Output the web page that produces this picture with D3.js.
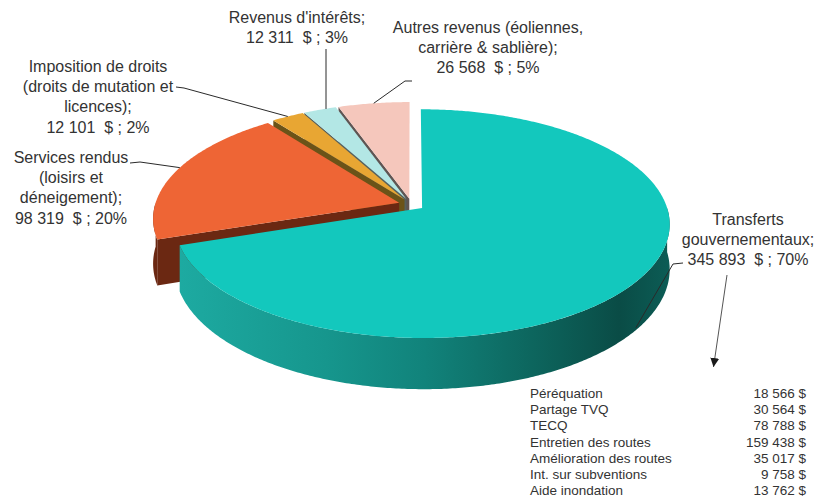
<!DOCTYPE html>
<html>
<head>
<meta charset="utf-8">
<script src="https://cdn.jsdelivr.net/npm/d3@7"></script>
<style>
  body { margin: 0; background: #fff; }
  text { font-family: "Liberation Sans", Arial, sans-serif; fill: #333; }
</style>
</head>
<body>
<div id="chart"></div>
<script>
// revenue categories, clockwise from 12 o'clock
const categories = [
  "Transferts gouvernementaux",
  "Services rendus (loisirs et déneigement)",
  "Imposition de droits (droits de mutation et licences)",
  "Revenus d'intérêts",
  "Autres revenus (éoliennes, carrière & sablière)"
];
const values = [345893, 98319, 12101, 12311, 26568];
const percentLabels = ["70%", "20%", "2%", "3%", "5%"];
const labelLines = [
  ["Transferts", "gouvernementaux;"],
  ["Services rendus", "(loisirs et", "déneigement);"],
  ["Imposition de droits", "(droits de mutation et", "licences);"],
  ["Revenus d'intérêts;"],
  ["Autres revenus (éoliennes,", "carrière & sablière);"]
];

// breakdown of the government transfers
const detailNames = [
  "Péréquation", "Partage TVQ", "TECQ", "Entretien des routes",
  "Amélioration des routes", "Int. sur subventions", "Aide inondation"
];
const detailValues = [18566, 30564, 78788, 159438, 35017, 9758, 13762];

const topColors = ["#13C8BD", "#EE6535", "#E8A633", "#B3E7E5", "#F5C7BC"];
const sideColors = ["#0E7E76", "#6B2812", "#6B5318", "#55615F", "#5F5553"];

const fr = d3.formatLocale({ decimal: ",", thousands: "\u00a0", grouping: [3], currency: ["", " $"] });
const fmt = fr.format(",d");

const width = 816, height = 502;
const svg = d3.select('#chart').append('svg')
  .attr('width', width).attr('height', height);

// 3D projection of the pie plane
const cx = 411.5, cy = 204.5, R = 244, K = 0.456, D = 1790, depth = 44, explode = 13;
function proj(r, a, off, z) {
  const u = r * Math.sin(a) + off[0];
  const f = r * Math.cos(a) + off[1];
  const s = D / (D + f);
  return [cx + u * s, cy - f * K * s + z * s];
}
function arcPts(a0, a1, off, z) {
  const n = Math.max(2, Math.ceil(Math.abs(a1 - a0) / 0.01));
  return d3.range(n + 1).map(i => proj(R, a0 + (a1 - a0) * i / n, off, z));
}
const line = d3.line().curve(d3.curveLinear);

const arcs = d3.pie().sort(null).value(d => d)(values).map((d, i) => {
  const mid = (d.startAngle + d.endAngle) / 2;
  return { ...d, i, mid, off: [explode * Math.sin(mid), explode * Math.cos(mid)] };
});

const defs = svg.append('defs');
const grad = defs.append('linearGradient').attr('id', 'tealSide')
  .attr('gradientUnits', 'userSpaceOnUse')
  .attr('x1', 180).attr('x2', 668).attr('y1', 0).attr('y2', 0);
[[0, "#1DAAA1"], [0.3, "#16968D"], [0.5, "#11837B"], [0.72, "#0D665E"], [0.9, "#0A4C46"], [1, "#0C5C55"]]
  .forEach(([o, c]) => grad.append('stop').attr('offset', o).attr('stop-color', c));

const walls = svg.append('g');
const tops = svg.append('g');

// walls: far slices first
arcs.slice().sort((a, b) => b.off[1] - a.off[1]).forEach(d => {
  const g = walls.append('g');
  const fillSide = d.i === 0 ? 'url(#tealSide)' : sideColors[d.i];
  // radial faces facing the viewer
  [[d.startAngle, Math.sin(d.startAngle) < -1e-6], [d.endAngle, Math.sin(d.endAngle) > 1e-6]]
    .forEach(([a, vis]) => {
      if (!vis) return;
      const pts = [proj(0, 0, d.off, 0), proj(R, a, d.off, 0), proj(R, a, d.off, depth), proj(0, 0, d.off, depth)];
      g.append('path').attr('d', line(pts) + 'Z').attr('fill', sideColors[d.i]);
    });
  // outer wall
  const t0 = Math.max(d.startAngle, Math.PI / 2), t1 = Math.min(d.endAngle, 3 * Math.PI / 2);
  if (t1 > t0) {
    const pts = arcPts(t0, t1, d.off, 0).concat(arcPts(t1, t0, d.off, depth));
    g.append('path').attr('d', line(pts) + 'Z').attr('fill', fillSide);
  }
});

arcs.forEach(d => {
  const pts = [proj(0, 0, d.off, 0)].concat(arcPts(d.startAngle, d.endAngle, d.off, 0));
  tops.append('path').attr('d', line(pts) + 'Z').attr('fill', topColors[d.i]);
});

// data labels
const labelPos = [[748, 225], [71, 163], [98, 72], [297, 23], [488, 33]];
arcs.forEach(d => {
  const lines = labelLines[d.i].concat([fmt(values[d.i]) + "  $ ; " + percentLabels[d.i]]);
  const t = svg.append('text')
    .attr('text-anchor', 'middle')
    .style('font-size', '16px')
    .style('white-space', 'pre');
  lines.forEach((s, j) => {
    t.append('tspan').attr('x', labelPos[d.i][0]).attr('y', labelPos[d.i][1] + j * 20.2).text(s);
  });
});

// leader lines
const leaderElbows = [
  [[683, 263], [673, 264]],
  [[130, 163], [140, 162]],
  [[176, 87], [184, 88]],
  [[326, 49]],
  [[412, 81], [405, 81]]
];
const leaderEnds = [
  proj(R, 2.22, arcs[0].off, depth * 0.95),
  proj(R, 5.05, arcs[1].off, 0),
  proj(R, arcs[2].mid, arcs[2].off, 0),
  proj(R, 5.89, arcs[3].off, 0),
  proj(R, arcs[4].mid, arcs[4].off, 0)
];
leaderElbows.forEach((el, i) => {
  let pts = el.concat([leaderEnds[i]]);
  if (i === 3) pts = [el[0], [el[0][0], leaderEnds[i][1]]];
  svg.append('path').attr('d', line(pts))
    .attr('fill', 'none').attr('stroke', '#2a2a2a').attr('stroke-width', 1);
});

// arrow to the detail table
defs.append('marker').attr('id', 'head')
  .attr('viewBox', '0 0 10 10').attr('refX', 10).attr('refY', 5)
  .attr('markerWidth', 9).attr('markerHeight', 9).attr('markerUnits', 'userSpaceOnUse')
  .attr('orient', 'auto')
  .append('path').attr('d', 'M0,0L10,5L0,10Z').attr('fill', '#1a1a1a');
svg.append('line')
  .attr('x1', 727).attr('y1', 275).attr('x2', 713.5).attr('y2', 367)
  .attr('stroke', '#555').attr('stroke-width', 1)
  .attr('marker-end', 'url(#head)');

// detail table
const rowY = d3.scalePoint().domain(detailNames).range([398, 495]);
const table = svg.append('g').style('font-size', '13.5px');
table.selectAll('.dname').data(detailNames).enter().append('text')
  .attr('x', 530).attr('y', d => rowY(d)).text(d => d);
table.selectAll('.dval').data(detailValues).enter().append('text')
  .attr('x', 806).attr('y', (d, i) => rowY(detailNames[i]))
  .attr('text-anchor', 'end')
  .text(d => fmt(d) + " $");
</script>
</body>
</html>
